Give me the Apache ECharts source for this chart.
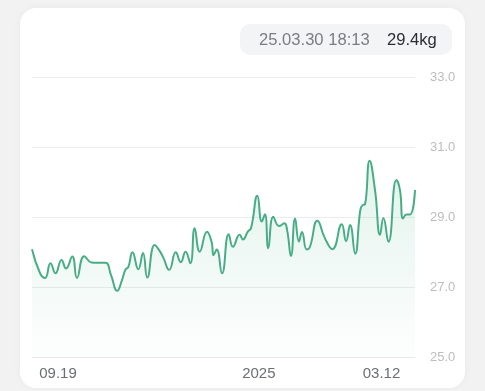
<!DOCTYPE html>
<html>
<head>
<meta charset="utf-8">
<script src="https://cdn.jsdelivr.net/npm/echarts@6/dist/echarts.min.js"></script>
<style>
  html, body { margin:0; padding:0; width:485px; height:391px; background:#f2f2f3; overflow:hidden; font-family:"Liberation Sans", Arial, sans-serif; }
  #card { position:absolute; left:20px; top:8px; width:445px; height:380px; background:#fff; border-radius:16px; box-shadow:0 0 8px rgba(0,0,0,0.04); }
  #pill { position:absolute; left:240px; top:24px; width:212px; height:31px; background:#f3f4f6; border-radius:10px; font-size:16.6px; line-height:31px; white-space:nowrap; }
  #pill .t { position:absolute; left:19px; color:#7a7d82; }
  #pill .v { position:absolute; left:147px; color:#2b2e33; }
  #chart { position:absolute; left:0; top:0; width:485px; height:391px; }
</style>
</head>
<body>
<div id="card"></div>
<div id="chart"></div>
<div id="pill"><span class="t" id="ptime"></span><span class="v" id="pval"></span></div>
<script>
const dates = [
 '2024-09-05T00:00','2024-09-09T07:00','2024-09-12T00:00','2024-09-14T23:00','2024-09-17T15:00',
 '2024-09-20T21:00','2024-09-23T07:00','2024-09-26T16:00','2024-09-29T05:00','2024-10-03T02:00',
 '2024-10-07T00:00','2024-10-10T12:00','2024-10-14T13:00','2024-10-17T12:00','2024-10-20T20:00',
 '2024-10-23T10:00','2024-10-25T07:00','2024-10-26T19:00','2024-10-29T01:00','2024-11-01T04:00',
 '2024-11-03T17:00','2024-11-06T00:00','2024-11-09T23:00','2024-11-12T07:00','2024-11-14T15:00',
 '2024-11-17T19:00','2024-11-21T08:00','2024-11-24T00:00','2024-11-26T14:00','2024-11-29T04:00',
 '2024-12-01T12:00','2024-12-04T05:00','2024-12-08T03:00','2024-12-10T16:00','2024-12-11T15:00',
 '2024-12-13T08:00','2024-12-16T05:00','2024-12-19T19:00','2024-12-22T02:00','2024-12-25T17:00',
 '2024-12-27T12:00','2024-12-30T02:00','2024-12-31T19:00','2025-01-04T05:00','2025-01-06T14:00',
 '2025-01-08T07:00','2025-01-10T02:00','2025-01-12T19:00','2025-01-15T22:00','2025-01-18T17:00',
 '2025-01-20T05:00','2025-01-22T07:00','2025-01-24T12:00','2025-01-26T14:00','2025-01-28T05:00',
 '2025-01-30T19:00','2025-02-01T12:00','2025-02-05T12:00','2025-02-09T14:00','2025-02-13T14:00',
 '2025-02-18T14:00','2025-02-20T22:00','2025-02-23T02:00','2025-02-25T19:00','2025-02-28T14:00',
 '2025-03-01T19:00','2025-03-03T02:00','2025-03-05T14:00','2025-03-08T12:00','2025-03-11T05:00',
 '2025-03-13T00:00','2025-03-15T17:00','2025-03-20T00:00','2025-03-21T22:00','2025-03-23T14:00',
 '2025-03-25T10:00','2025-03-27T07:00','2025-03-30T00:00'
];
const weights = [
 28.08,27.40,27.26,27.68,27.39,27.77,27.53,27.87,27.26,27.88,
 27.70,27.69,27.69,27.34,26.89,27.20,27.50,27.57,27.99,27.51,
 27.97,27.27,28.20,28.06,27.84,27.49,27.99,27.71,28.01,27.68,
 28.68,28.01,28.58,28.27,27.91,28.07,27.39,28.51,28.15,28.49,
 28.36,28.58,28.68,29.61,28.87,29.08,28.11,29.01,28.74,28.82,
 28.63,27.89,28.96,28.30,28.57,28.07,28.15,28.89,28.39,28.08,
 28.79,28.31,28.77,27.95,29.20,29.34,29.36,30.61,29.77,28.49,
 28.97,28.29,30.06,29.77,28.96,29.07,29.07,29.77
];
const tickDates = ['2024-09-19T00:00','2025-01-05T00:00','2025-03-12T00:00'];
const tickLabels = ['09.19','2025','03.12'];
const yTicks = [25, 27, 29, 31, 33];
const selectedTime = '25.03.30 18:13';
const selectedValue = '29.4kg';

document.getElementById('ptime').textContent = selectedTime;
document.getElementById('pval').textContent = selectedValue;

const ts = s => new Date(s).getTime();
const tickTs = tickDates.map(ts);
const data = dates.map((d, i) => [ts(d), weights[i]]);

const chart = echarts.init(document.getElementById('chart'), null, {renderer:'canvas'});
chart.setOption({
  animation: false,
  textStyle: { fontFamily: '"Liberation Sans", Arial, sans-serif' },
  grid: { left: 32, right: 70, top: 77, bottom: 34 },
  xAxis: {
    type: 'value',
    min: ts(dates[0]), max: ts(dates[dates.length - 1]),
    axisLine: { show: true, lineStyle: { color: '#e8e8e8', width: 1 } },
    axisTick: { show: false },
    splitLine: { show: false },
    axisLabel: {
      customValues: tickTs,
      color: '#6b6e73', fontSize: 15, margin: 9,
      formatter: v => { const i = tickTs.indexOf(v); return i >= 0 ? tickLabels[i] : ''; },
      hideOverlap: false
    }
  },
  yAxis: {
    type: 'value', position: 'right',
    min: yTicks[0], max: yTicks[yTicks.length - 1], interval: 2,
    axisLine: { show: false }, axisTick: { show: false },
    splitLine: { lineStyle: { color: '#ececec', width: 1 } },
    axisLabel: { color: '#bdbdbd', fontSize: 13, margin: 15, formatter: v => v.toFixed(1) }
  },
  series: [{
    type: 'line',
    data: data,
    smooth: 0.5,
    showSymbol: false,
    lineStyle: { color: '#48ad87', width: 2 },
    areaStyle: {
      color: new echarts.graphic.LinearGradient(0, 0, 0, 1, [
        { offset: 0, color: 'rgba(90,185,145,0.24)' },
        { offset: 1, color: 'rgba(90,185,145,0.02)' }
      ])
    }
  }]
});
</script>
</body>
</html>
